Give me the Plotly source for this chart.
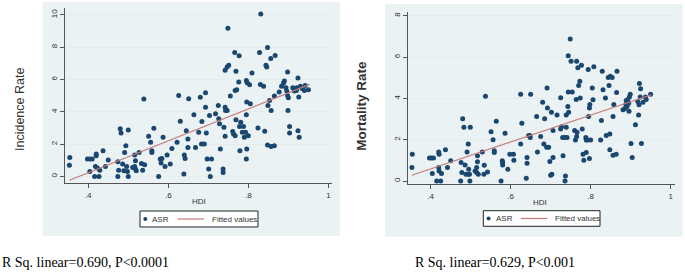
import plotly.graph_objects as go

W, H = 685, 273

# ---------------- data ----------------
inc_hdi = [
    0.354, 0.353, 0.398, 0.404, 0.41, 0.404, 0.416, 0.427, 0.42, 0.42,
    0.418, 0.423, 0.429, 0.437, 0.443, 0.45, 0.474, 0.474, 0.476, 0.48,
    0.482, 0.486, 0.489, 0.491, 0.494, 0.496, 0.498, 0.5, 0.5, 0.511,
    0.516, 0.516, 0.518, 0.518, 0.52, 0.527, 0.533, 0.536, 0.539, 0.541,
    0.551, 0.556, 0.559, 0.559, 0.564, 0.576, 0.58, 0.582, 0.584, 0.587,
    0.592, 0.597, 0.605, 0.609, 0.622, 0.626, 0.63, 0.639, 0.64, 0.642,
    0.645, 0.649, 0.649, 0.651, 0.664, 0.668, 0.676, 0.68, 0.684, 0.683,
    0.69, 0.693, 0.693, 0.695, 0.697, 0.701, 0.703, 0.705, 0.708, 0.718,
    0.725, 0.726, 0.728, 0.73, 0.737, 0.737, 0.739, 0.742, 0.742, 0.743,
    0.747, 0.742, 0.747, 0.751, 0.749, 0.755, 0.761, 0.763, 0.766, 0.767,
    0.769, 0.769, 0.771, 0.767, 0.777, 0.776, 0.778, 0.779, 0.781, 0.785,
    0.788, 0.79, 0.793, 0.795, 0.795, 0.796, 0.795, 0.797, 0.796, 0.8,
    0.803, 0.805, 0.809, 0.824, 0.828, 0.83, 0.831, 0.838, 0.841, 0.844,
    0.846, 0.848, 0.848, 0.849, 0.853, 0.856, 0.857, 0.857, 0.865, 0.867,
    0.865, 0.877, 0.883, 0.888, 0.89, 0.894, 0.898, 0.896, 0.898, 0.9,
    0.899, 0.903, 0.903, 0.911, 0.915, 0.917, 0.92, 0.921, 0.924, 0.924,
    0.926, 0.927, 0.93, 0.934, 0.94, 0.942, 0.95,
]
inc_asr = [
    1.18, 0.70, 1.08, 1.08, 1.08, 0.31, 0, 0, 1.39, 1.29,
    0.62, 0.52, 0.39, 1.6, 0.62, 1.02, 0, 0.91, 0.39, 2.95,
    2.7, 0.77, 0.35, 1.49, 1.91, 0.62, 0.31, 0, 2.88, 0.56,
    0.62, 1.33, 0.98, 0.46, 0.35, 1.49, 0.81, 0.39, 4.79, 0.73,
    2.49, 2.12, 1.6, 1.49, 2.99, 0, 1.08, 0.83, 1.12, 2.43,
    0.62, 1.33, 0.77, 1.74, 2.12, 5.02, 3.42, 0.15, 1.33, 1.12,
    2.84, 2.32, 1.8, 4.81, 3.82, 1.8, 2.74, 4.9, 3.4, 2.01,
    2.01, 5.19, 4.29, 2.7, 1.08, 0.46, 3.78, 0, 1.08, 3.88,
    4.4, 3.57, 3.26, 1.7, 0.46, 0.25, 3.05, 2.49, 4.29, 4.09,
    4.09, 6.58, 6.78, 6.89, 9.17, 4.98, 2.78, 2.63, 7.68, 5.33,
    3.51, 6.51, 5.37, 2.53, 7.47, 5.85, 3.09, 1.6, 3.36, 2.74,
    3.09, 2.43, 2.74, 3.82, 1.08, 1.7, 5.95, 5.81, 4.61, 2.53,
    5.68, 4.5, 6.41, 3.01, 7.68, 5.7, 10.06, 5.58, 2.8, 6.89,
    6.78, 7.99, 1.95, 4.4, 4.71, 7.3, 1.85, 4.09, 1.91, 7.49,
    4.98, 5.23, 5.58, 5.79, 5.91, 5.5, 6.47, 5.29, 5.02, 4.88,
    4.09, 3.09, 2.7, 5.5, 5.29, 5.44, 5.33, 5.5, 6.1, 2.84,
    4.92, 2.43, 5.58, 5.44, 5.33, 5.64, 5.37,
]
inc_fit_hdi = [0.353, 0.953]
inc_fit_val = [-0.23, 5.70]

mort_hdi = [
    0.354, 0.353, 0.397, 0.402, 0.407, 0.404, 0.415, 0.425, 0.42, 0.421,
    0.42, 0.421, 0.427, 0.437, 0.442, 0.45, 0.475, 0.476, 0.478, 0.48,
    0.483, 0.486, 0.488, 0.491, 0.494, 0.495, 0.497, 0.498, 0.499, 0.494,
    0.511, 0.515, 0.517, 0.517, 0.515, 0.519, 0.529, 0.533, 0.534, 0.537,
    0.542, 0.551, 0.556, 0.559, 0.559, 0.564, 0.576, 0.579, 0.58, 0.58,
    0.586, 0.593, 0.598, 0.607, 0.608, 0.625, 0.625, 0.628, 0.639, 0.641,
    0.641, 0.645, 0.648, 0.65, 0.649, 0.665, 0.667, 0.675, 0.68, 0.683,
    0.685, 0.69, 0.691, 0.692, 0.695, 0.698, 0.7, 0.702, 0.703, 0.706,
    0.706, 0.716, 0.725, 0.725, 0.727, 0.73, 0.731, 0.735, 0.737, 0.736,
    0.739, 0.739, 0.741, 0.743, 0.744, 0.745, 0.744, 0.749, 0.751, 0.754,
    0.76, 0.762, 0.764, 0.765, 0.765, 0.766, 0.768, 0.77, 0.773, 0.774,
    0.777, 0.779, 0.781, 0.783, 0.788, 0.789, 0.789, 0.792, 0.794, 0.795,
    0.797, 0.797, 0.798, 0.8, 0.804, 0.806, 0.808, 0.825, 0.827, 0.829,
    0.831, 0.837, 0.839, 0.844, 0.846, 0.848, 0.848, 0.849, 0.854, 0.856,
    0.856, 0.858, 0.864, 0.866, 0.865, 0.881, 0.885, 0.888, 0.889, 0.891,
    0.893, 0.895, 0.897, 0.899, 0.896, 0.901, 0.904, 0.912, 0.918, 0.92,
    0.921, 0.922, 0.925, 0.924, 0.927, 0.931, 0.937, 0.939, 0.95,
]
mort_asr = [
    1.30, 0.65, 1.11, 1.11, 1.11, 0.36, 0, 0, 1.41, 1.30,
    0.65, 0.49, 0.36, 1.51, 0.65, 0.98, 0, 0.89, 0.41, 3.01,
    2.60, 0.78, 0.33, 1.41, 1.79, 0.57, 0.33, 0, 2.60, 0.33,
    0.49, 0.65, 1.22, 0.93, 0.41, 0.33, 1.41, 0.33, 0.76, 4.10,
    0.44, 2.39, 2.0, 1.46, 1.38, 2.89, 0, 0.98, 0.78, 0.89,
    2.31, 0.57, 1.30, 1.30, 1.01, 1.79, 4.20, 2.80, 0.13, 1.14,
    0.86, 2.20, 2.2, 4.20, 2.11, 3.12, 1.41, 2.15, 3.82, 1.79,
    3.01, 1.63, 4.50, 3.53, 1.63, 0.94, 0.28, 3.33, 0.33, 2.44,
    1.14, 3.20, 4.03, 2.52, 2.63, 2.11, 1.22, 2.11, 0.24, 0,
    3.20, 2.60, 2.11, 3.61, 4.31, 3.33, 6.07, 6.88, 5.80, 4.31,
    2.44, 1.98, 3.95, 5.80, 2.15, 2.36, 5.48, 4.63, 4.83, 4.02,
    5.61, 2.52, 1.30, 1.01, 2.11, 1.38, 1.98, 1.98, 5.40, 3.12,
    3.54, 1.09, 3.71, 1.98, 4.50, 3.93, 5.53, 1.98, 2.93, 5.32,
    4.42, 4.02, 2.2, 5.01, 4.63, 2.28, 1.51, 5.07, 5.01, 1.25,
    3.12, 3.71, 1.30, 5.32, 4.29, 3.45, 3.50, 3.71, 3.90, 3.61,
    3.95, 3.77, 4.07, 4.2, 3.38, 1.82, 1.14, 2.72, 3.85, 3.2,
    3.69, 4.72, 4.47, 4.07, 1.82, 3.82, 4.07, 3.95, 4.2,
]
mort_fit_hdi = [0.353, 0.952]
mort_fit_val = [0.28, 4.18]

x_tickvals = [0.4, 0.6, 0.8, 1.0]
x_ticktext = [".4", ".6", ".8", "1"]
inc_yticks = [0, 2, 4, 6, 8, 10]
mort_yticks = [0, 2, 4, 6, 8]

legend_labels = ["ASR", "Fitted values"]
stats_left = "R Sq. linear=0.690, P<0.0001"
stats_right = "R Sq. linear=0.629, P<0.001"

# ---------------- styling ----------------
NAVY = "#1a476f"
FIT = "#c97a78"
REGION = "#eaf2f3"
AXIS = "#555555"
TXT = "#333333"
SANS = "Liberation Sans, Arial, sans-serif"
SERIF = "Liberation Serif, Times New Roman, serif"


def fx(px):
    return px / W


def fy(py):
    return 1 - py / H


def note(text, px, py, size, family=SANS, color=TXT, xanchor="center", angle=0):
    return dict(text=text, x=fx(px), y=fy(py), xref="paper", yref="paper",
                xanchor=xanchor, yanchor="middle", textangle=angle, showarrow=False,
                font=dict(family=family, size=size, color=color))


fig = go.Figure()

for xs, ys, fxs, fys, xa, ya in [
    (inc_hdi, inc_asr, inc_fit_hdi, inc_fit_val, "x", "y"),
    (mort_hdi, mort_asr, mort_fit_hdi, mort_fit_val, "x2", "y2"),
]:
    fig.add_trace(go.Scatter(x=xs, y=ys, mode="markers", name=legend_labels[0],
                             marker=dict(color=NAVY, size=5, line=dict(width=0)),
                             xaxis=xa, yaxis=ya, showlegend=False, cliponaxis=False))
    fig.add_trace(go.Scatter(x=fxs, y=fys, mode="lines", name=legend_labels[1],
                             line=dict(color=FIT, width=1.2),
                             xaxis=xa, yaxis=ya, showlegend=False))

xcommon = dict(showline=True, linecolor=AXIS, linewidth=1, ticks="outside", ticklen=4,
               tickcolor=AXIS, tickvals=x_tickvals, ticktext=x_ticktext, showgrid=False,
               zeroline=False, tickfont=dict(family=SANS, size=8, color=TXT))
ycommon = dict(showline=True, linecolor=AXIS, linewidth=1, ticks="outside", ticklen=4,
               tickcolor=AXIS, showgrid=True, gridcolor="#e4ecee", gridwidth=1,
               zeroline=False, tickangle=-90,
               tickfont=dict(family=SANS, size=8, color=TXT))

shapes = [
    dict(type="rect", xref="paper", yref="paper", x0=fx(42.7), x1=fx(340),
         y0=fy(236), y1=fy(2), fillcolor=REGION, line=dict(width=0), layer="below"),
    dict(type="rect", xref="paper", yref="paper", x0=fx(385), x1=fx(682.7),
         y0=fy(236.7), y1=fy(4), fillcolor=REGION, line=dict(width=0), layer="below"),
]
annotations = [
    note("Incidence Rate", 20, 110, 12.5, angle=-90),
    note("<b>Mortality Rate</b>", 361.7, 106, 13.5, angle=-90),
    note("HDI", 198.5, 201.7, 8),
    note("HDI", 539.5, 202.7, 8),
    note(stats_left, 0, 262.5, 14, family=SERIF, color="black", xanchor="left"),
    note(stats_right, 412.7, 262.5, 14, family=SERIF, color="black", xanchor="left"),
]

# manual Stata-style legend boxes (box, marker key, line key, labels)
for bx0, bx1, by0, by1 in [(140, 258, 211, 227), (483.3, 600, 210.7, 226.3)]:
    cy = (by0 + by1) / 2
    shapes.append(dict(type="rect", xref="paper", yref="paper", x0=fx(bx0), x1=fx(bx1),
                       y0=fy(by1), y1=fy(by0), fillcolor="white",
                       line=dict(color="#222222", width=1)))
    mx = bx0 + 5.3
    shapes.append(dict(type="circle", xref="paper", yref="paper", x0=fx(mx - 2), x1=fx(mx + 2),
                       y0=fy(cy + 2), y1=fy(cy - 2), fillcolor=NAVY, line=dict(width=0)))
    shapes.append(dict(type="line", xref="paper", yref="paper", x0=fx(bx0 + 37.5),
                       x1=fx(bx0 + 64), y0=fy(cy), y1=fy(cy),
                       line=dict(color=FIT, width=1.2)))
    annotations.append(note(legend_labels[0], bx0 + 10.3, cy, 8, xanchor="left"))
    annotations.append(note(legend_labels[1], bx0 + 69.5, cy, 8, xanchor="left"))

fig.update_layout(
    width=W, height=H,
    margin=dict(l=0, r=0, t=0, b=0, autoexpand=False),
    paper_bgcolor="white", plot_bgcolor="white",
    showlegend=False,
    xaxis=dict(domain=[fx(65), fx(332)], range=[0.342, 1.009], anchor="y", **xcommon),
    yaxis=dict(domain=[fy(183.3), fy(8)], range=[-0.42, 10.43], anchor="x",
               tickvals=inc_yticks, **ycommon),
    xaxis2=dict(domain=[fx(407.7), fx(675)], range=[0.3425, 1.011], anchor="y2", **xcommon),
    yaxis2=dict(domain=[fy(184.3), fy(11.7)], range=[-0.16, 8.2], anchor="x2",
                tickvals=mort_yticks, **ycommon),
    shapes=shapes,
    annotations=annotations,
)

fig.write_html("out.html", config={"displayModeBar": False},
               post_script="document.body.style.margin='0';document.body.style.overflow='hidden';")
